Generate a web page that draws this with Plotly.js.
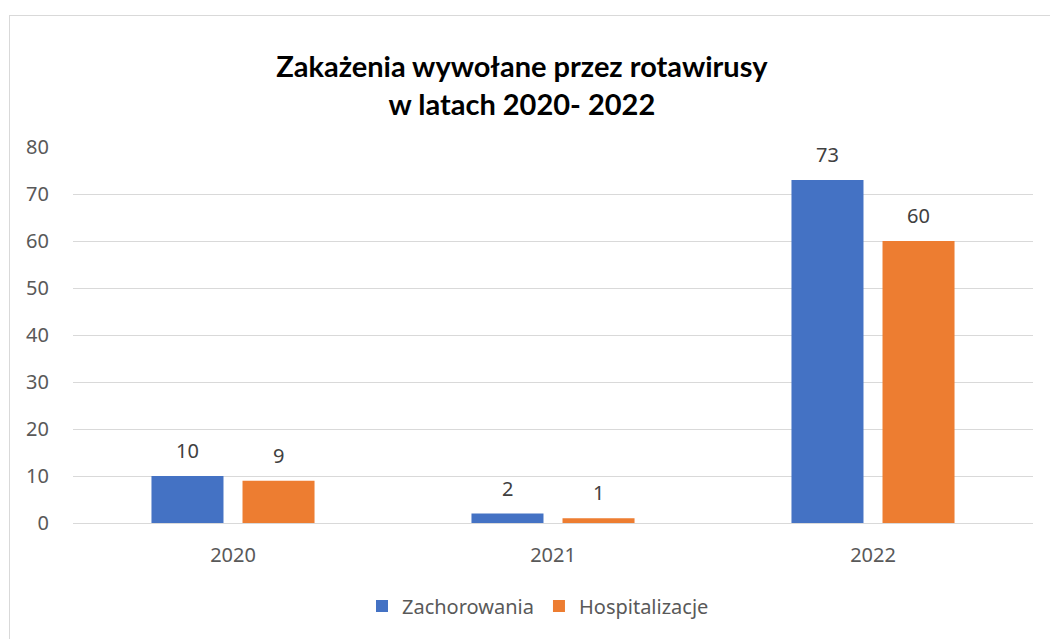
<!DOCTYPE html>
<html>
<head>
<meta charset="utf-8">
<script src="https://cdn.plot.ly/plotly-3.0.1.min.js"></script>
<style>
html,body{margin:0;padding:0;background:#fff;}
#wrap{position:relative;width:1050px;height:639px;overflow:hidden;}
#chart{width:1050px;height:639px;}
#frame{position:absolute;left:9px;top:15px;width:1100px;height:700px;border-left:1.5px solid #d9d9d9;border-top:1.5px solid #d9d9d9;pointer-events:none;}
</style>
</head>
<body>
<div id="wrap"><div id="chart"></div><div id="frame"></div></div>
<script>
var years = ['2020', '2021', '2022'];
var zachorowania = [10, 2, 73];
var hospitalizacje = [9, 1, 60];
var seriesNames = ['Zachorowania', 'Hospitalizacje'];
var titleText = '<b>Zakażenia wywołane przez rotawirusy<br>w latach 2020- 2022</b>';

var colors = ['#4472c4', '#ed7d31'];
var seriesVals = [zachorowania, hospitalizacje];

var traces = seriesVals.map(function(v, i){
  return {type:'bar', x:years, y:v, name:seriesNames[i], marker:{color:colors[i]}};
});

var annotations = [];
var offsets = [-45.5, 45.5];
seriesVals.forEach(function(v, i){
  v.forEach(function(val, j){
    annotations.push({x:j, y:val, xref:'x', yref:'y', text:String(val),
      showarrow:false, xshift:offsets[i], yanchor:'bottom', yshift:10,
      font:{family:'Noto Sans, sans-serif', size:20, color:'#404040'}});
  });
});

var layout = {
  width:1050, height:639,
  margin:{l:73, r:17, t:147, b:116},
  paper_bgcolor:'#ffffff', plot_bgcolor:'#ffffff',
  title:{text:titleText, xref:'container', x:0.497, yref:'container', y:1-77/639, yanchor:'middle',
    font:{family:'Lato, sans-serif', size:29, color:'#000000'}},
  barmode:'group', bargap:0.431, bargroupgap:0.209,
  xaxis:{type:'category', showgrid:false, showline:false, zeroline:false,
    ticks:'outside', ticklen:14, tickcolor:'rgba(0,0,0,0)',
    tickfont:{family:'Noto Sans, sans-serif', size:20, color:'#595959'}},
  yaxis:{range:[0,80], dtick:10, tick0:0, showgrid:true, gridcolor:'#d9d9d9', gridwidth:1,
    zeroline:true, zerolinecolor:'#d9d9d9', zerolinewidth:1, showline:false,
    ticks:'outside', ticklen:19, tickcolor:'rgba(0,0,0,0)',
    tickfont:{family:'Noto Sans, sans-serif', size:20, color:'#595959'}},
  showlegend:true,
  legend:{orientation:'h', xref:'container', x:538/1050, xanchor:'center', yref:'container', y:1-606/639, yanchor:'middle',
    itemwidth:30, font:{family:'Noto Sans, sans-serif', size:20, color:'#595959'}, traceorder:'normal'},
  annotations:annotations
};

Plotly.newPlot('chart', traces, layout, {displayModeBar:false});
</script>
</body>
</html>
